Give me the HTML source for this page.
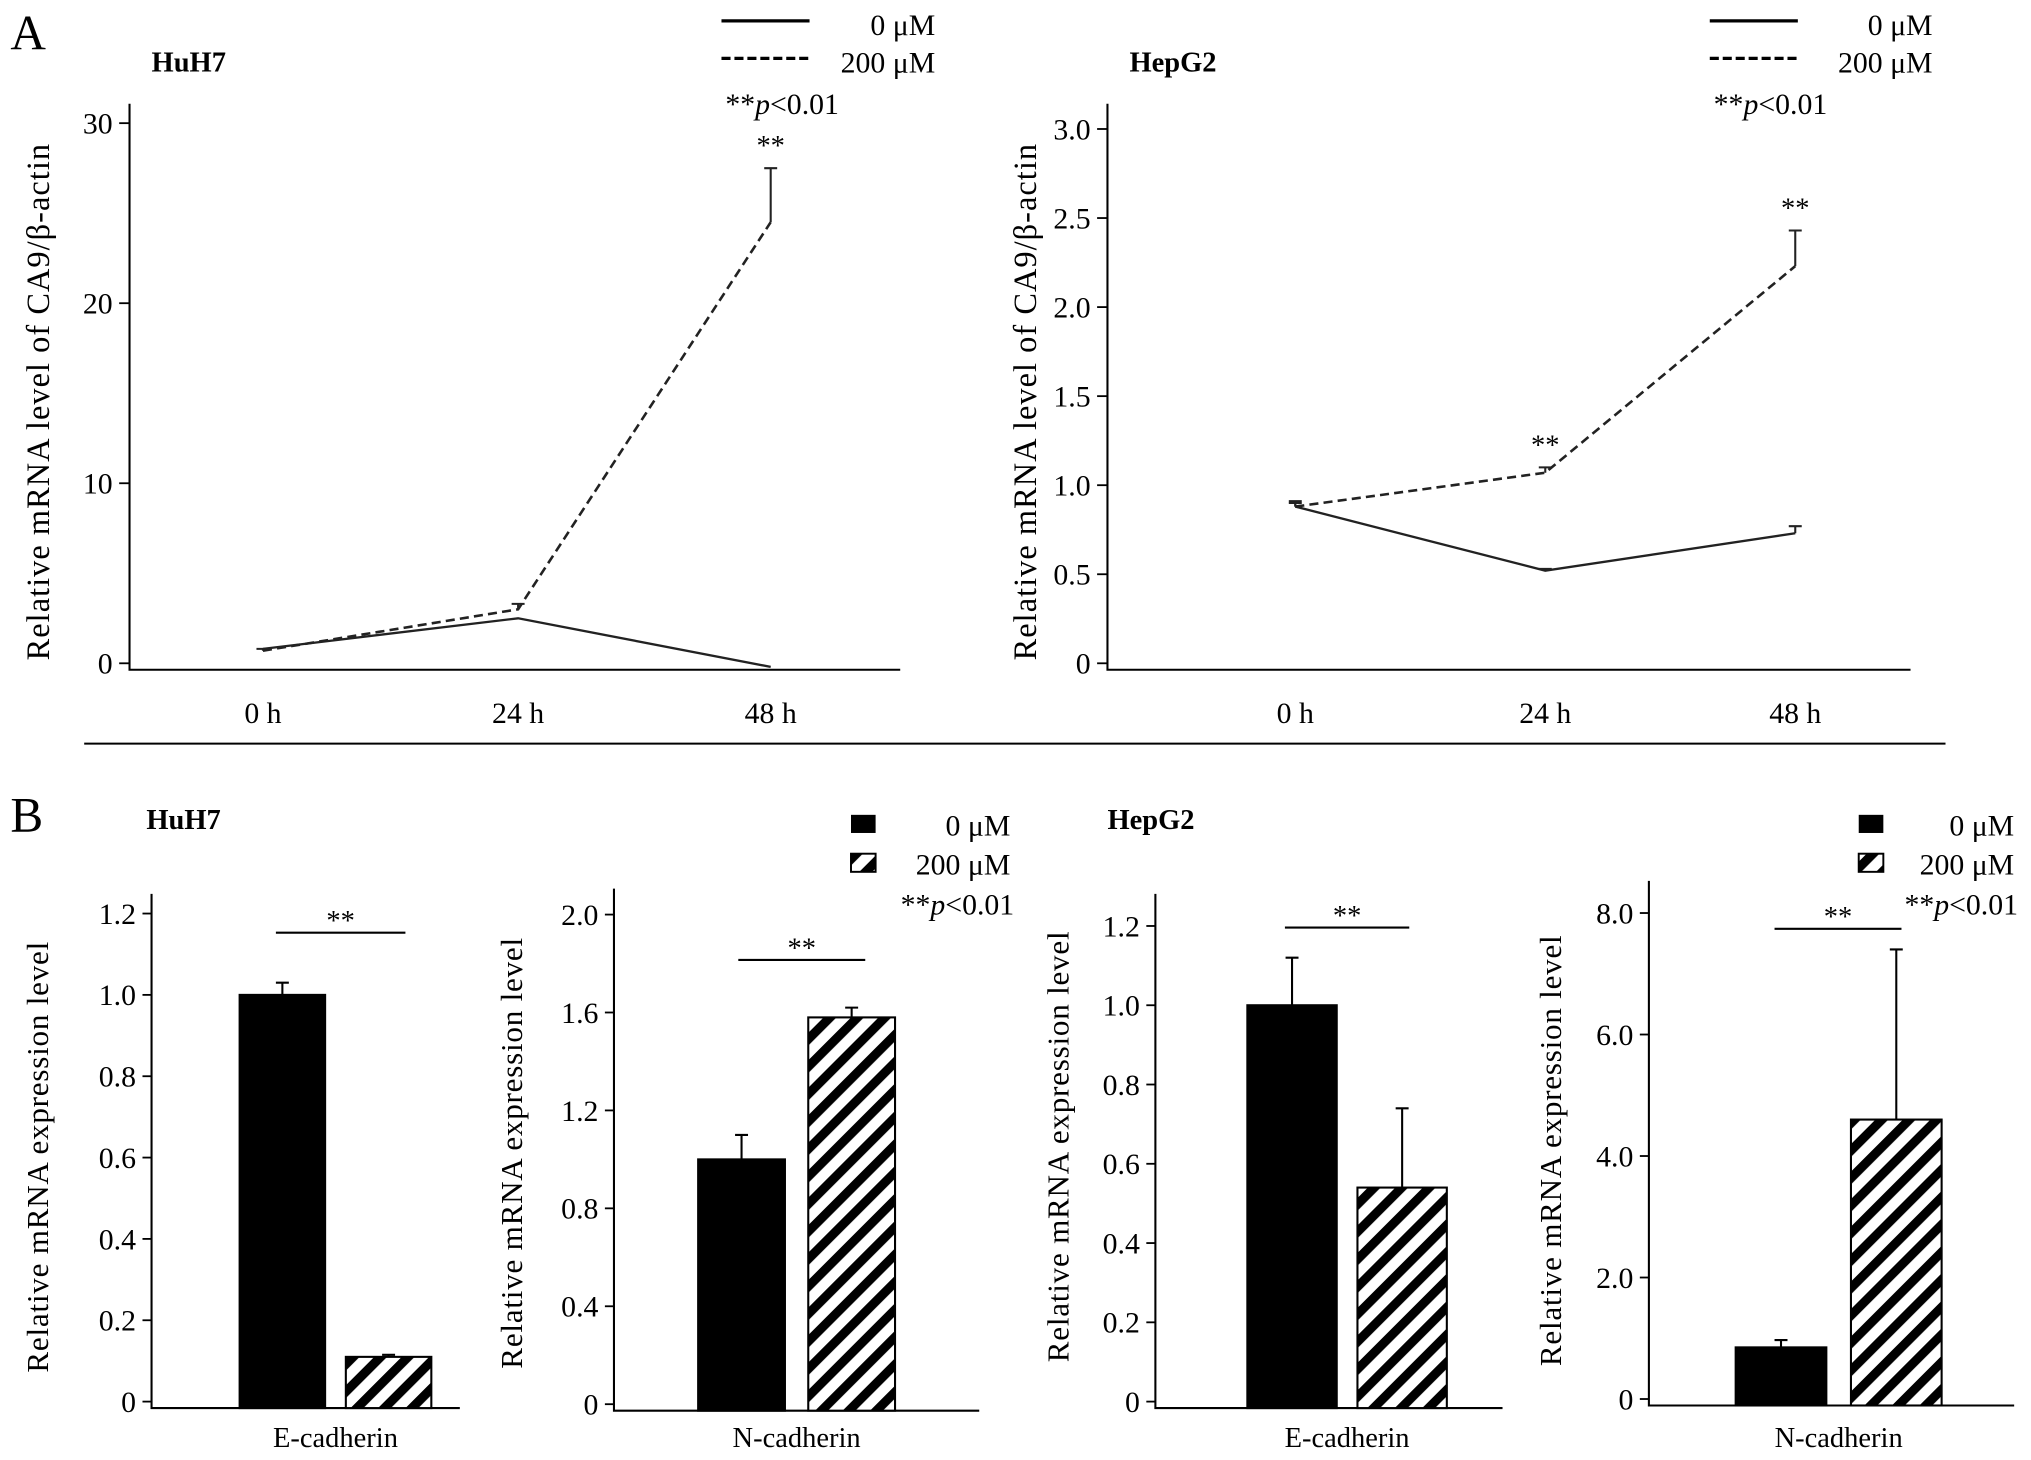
<!DOCTYPE html>
<html><head><meta charset="utf-8"><style>
html,body{margin:0;padding:0;background:#fff}
svg{display:block;font-family:"Liberation Serif",serif}
</style></head><body>
<svg id="fig" width="2031" height="1460" viewBox="0 0 1568 1127">
<defs>
<pattern id="hatch" patternUnits="userSpaceOnUse" width="15" height="15" patternTransform="rotate(45)">
<rect width="15" height="15" fill="#fff"/><rect x="0" y="0" width="7" height="15" fill="#000"/>
</pattern>
</defs>
<text x="8" y="38" font-size="38">A</text>
<text x="8" y="642" font-size="38">B</text>
<line x1="65" y1="574" x2="1502" y2="574" stroke="#000" stroke-width="1.5"/>
<g id="root"></g>
</svg>
<script>
// Panel A data
const timeCats = ["0 h","24 h","48 h"];
const huh7Ctrl = [0.8, 2.5, -0.2];
const huh7Treat = [0.7, 3.0, 24.5];
const huh7TreatErr = [0.1, 0.3, 3.0];
const huh7Ticks = [0, 10, 20, 30];
const hepCtrl = [0.88, 0.52, 0.73];
const hepCtrlErr = [0.03, 0.01, 0.04];
const hepTreat = [0.88, 1.07, 2.23];
const hepTreatErr = [0.02, 0.03, 0.2];
const hepTicks = [0, 0.5, 1.0, 1.5, 2.0, 2.5, 3.0];
const hepTickLabels = ["0","0.5","1.0","1.5","2.0","2.5","3.0"];
// Panel B data
const genes1 = ["E-cadherin"];
const b1Vals = [1.0, 0.11]; const b1Err = [0.03, 0.005];
const b1Ticks = ["0","0.2","0.4","0.6","0.8","1.0","1.2"];
const b2Vals = [1.0, 1.58]; const b2Err = [0.1, 0.04];
const b2Ticks = ["0","0.4","0.8","1.2","1.6","2.0"];
const b3Vals = [1.0, 0.54]; const b3Err = [0.12, 0.2];
const b3Ticks = ["0","0.2","0.4","0.6","0.8","1.0","1.2"];
const b4Vals = [0.85, 4.6]; const b4Err = [0.12, 2.8];
const b4Ticks = ["0","2.0","4.0","6.0","8.0"];

const NS="http://www.w3.org/2000/svg";
const root=document.getElementById('root');
function el(tag,attrs,parent,txt){const e=document.createElementNS(NS,tag);for(const k in attrs)e.setAttribute(k,attrs[k]);if(txt!==undefined)e.textContent=txt;(parent||root).appendChild(e);return e;}

function lineChart(o){
  const g=el('g',{});
  
  
  const y=v=>o.y0-(v-0)*o.ys;
  const x=i=>o.xs[i];
  const ax=el('path',{d:`M${o.ax} ${o.top}V${o.y0+5}H${o.axEnd}`,stroke:'#000','stroke-width':1.6,fill:'none'},g);
  
  o.ticks.forEach((t,i)=>{
    el('line',{x1:o.ax-8,x2:o.ax,y1:y(t),y2:y(t),stroke:'#000','stroke-width':1.4},g);
    const tl=el('text',{x:o.ax-13,y:y(t)+8,'font-size':23,'text-anchor':'end'},g,o.tickLabels?o.tickLabels[i]:String(t));
    
  });
  timeCats.forEach((c,i)=>{
    const t=el('text',{x:x(i),y:558,'font-size':23,'text-anchor':'middle'},g,c);
    
  });
  const yl=el('text',{transform:`translate(${o.ylx},310) rotate(-90)`,'font-size':25,'text-anchor':'middle','letter-spacing':'0.8'},g,'Relative mRNA level of CA9/β-actin');
  
  const l1=el('polyline',{points:o.ctrl.map((v,i)=>x(i)+','+y(v)).join(' '),fill:'none',stroke:'#222','stroke-width':1.8},g);
  
  const l2=el('polyline',{points:o.treat.map((v,i)=>x(i)+','+y(v)).join(' '),fill:'none',stroke:'#222','stroke-width':2,'stroke-dasharray':'7 4'},g);
  
  function errs(vals,err,nm){vals.forEach((v,i)=>{if(!err||err[i]<=0)return;
    const e=el('path',{d:`M${x(i)} ${y(v)}V${y(v+err[i])}M${x(i)-5} ${y(v+err[i])}H${x(i)+5}`,stroke:'#222','stroke-width':1.6,fill:'none'},g);
    });}
  errs(o.treat,o.treatErr,'error-bar-200uM');errs(o.ctrl,o.ctrlErr,'error-bar-0uM');
  o.sig.forEach(i=>{const s=el('text',{x:x(i),y:y(o.treat[i]+o.treatErr[i])-10,'font-size':22,'text-anchor':'middle'},g,'**');
    });
  const t=el('text',{x:o.ax+17,y:55,'font-size':22,'font-weight':'bold'},g,o.title);
  
  const lg=el('g',{},g);
  el('line',{x1:o.lgx,x2:o.lgx+68,y1:16,y2:16,stroke:'#000','stroke-width':2.5},lg);
  el('text',{x:o.lgr,y:27,'font-size':23,'text-anchor':'end'},lg,'0 μM');
  el('line',{x1:o.lgx,x2:o.lgx+68,y1:45,y2:45,stroke:'#000','stroke-width':2.5,'stroke-dasharray':'7 3'},lg);
  el('text',{x:o.lgr,y:56,'font-size':23,'text-anchor':'end'},lg,'200 μM');
  const p=el('text',{x:o.lgx+3,y:88,'font-size':23},lg);
  el('tspan',{},p,'**');el('tspan',{'font-style':'italic'},p,'p');el('tspan',{},p,'<0.01');
}
lineChart({name:'huh7-line-chart',title:'HuH7',ax:100,axEnd:695,top:80,y0:512,ys:13.9,xs:[203,400,595],ticks:huh7Ticks,ctrl:huh7Ctrl,treat:huh7Treat,treatErr:huh7TreatErr,ctrlErr:null,sig:[2],ylx:38,lgx:557,lgr:722});
lineChart({name:'hepg2-line-chart',title:'HepG2',ax:855,axEnd:1475,top:80,y0:512,ys:137.5,xs:[1000,1193,1386],ticks:hepTicks,tickLabels:hepTickLabels,ctrl:hepCtrl,ctrlErr:hepCtrlErr,treat:hepTreat,treatErr:hepTreatErr,sig:[1,2],ylx:800,lgx:1320,lgr:1492});

function barChart(o){
  const g=el('g',{});
  
  
  const y=v=>o.y0-v*o.ys;
  const ax=el('path',{d:`M${o.ax} ${o.top}V${o.y0+5}H${o.axEnd}`,stroke:'#000','stroke-width':1.6,fill:'none'},g);
  
  o.ticks.forEach(t=>{const v=parseFloat(t);
    el('line',{x1:o.ax-7,x2:o.ax,y1:y(v),y2:y(v),stroke:'#000','stroke-width':1.4},g);
    const tl=el('text',{x:o.ax-12,y:y(v)+8,'font-size':23,'text-anchor':'end'},g,t);
    });
  o.vals.forEach((v,i)=>{
    const bx=o.bx[i];
    const b=el('rect',{x:bx,y:y(v),width:o.bw,height:y(0)+5-y(v),fill:i?'url(#hatch)':'#000',stroke:'#000','stroke-width':1.6},g);
    
    const cx=bx+o.bw/2,top=y(v+o.err[i]);
    const e=el('path',{d:`M${cx} ${y(v)}V${top}M${cx-5} ${top}H${cx+5}`,stroke:'#000','stroke-width':1.6,fill:'none'},g);
    
  });
  const s=el('line',{x1:o.sig[0],x2:o.sig[1],y1:o.sig[2],y2:o.sig[2],stroke:'#000','stroke-width':1.6},g);
  
  const st=el('text',{x:(o.sig[0]+o.sig[1])/2,y:o.sig[2]-2,'font-size':22,'text-anchor':'middle'},g,'**');
  
  const xl=el('text',{x:(o.bx[0]+o.bx[1]+o.bw)/2,y:1117,'font-size':22,'text-anchor':'middle'},g,o.gene);
  
  const yl=el('text',{transform:`translate(${o.ylx},${o.ylc}) rotate(-90)`,'font-size':24,'text-anchor':'middle','letter-spacing':'0.6'},g,'Relative mRNA expression  level');
  
}
barChart({name:'huh7-ecadherin-bar-chart',gene:genes1[0],ax:117,axEnd:355,top:690,y0:1082,ys:314,ticks:b1Ticks,vals:b1Vals,err:b1Err,bx:[185,267],bw:66,sig:[213,313,720],ylx:37,ylc:893});
barChart({name:'huh7-ncadherin-bar-chart',gene:'N-cadherin',ax:474,axEnd:756,top:686,y0:1084,ys:189,ticks:b2Ticks,vals:b2Vals,err:b2Err,bx:[539,624],bw:67,sig:[570,668,741],ylx:403,ylc:890});
barChart({name:'hepg2-ecadherin-bar-chart',gene:'E-cadherin',ax:892,axEnd:1160,top:690,y0:1082,ys:306,ticks:b3Ticks,vals:b3Vals,err:b3Err,bx:[963,1048],bw:69,sig:[992,1088,716],ylx:825,ylc:885});
barChart({name:'hepg2-ncadherin-bar-chart',gene:'N-cadherin',ax:1273,axEnd:1555,top:680,y0:1080,ys:46.9,ticks:b4Ticks,vals:b4Vals,err:b4Err,bx:[1340,1429],bw:70,sig:[1370,1468,717],ylx:1205,ylc:888});

const titles=[[113,'HuH7'],[855,'HepG2']];
titles.forEach(t=>{const e=el('text',{x:t[0],y:640,'font-size':22,'font-weight':'bold'},root,t[1]);
  });
function barLegend(lx,rx,nm){
  const g=el('g',{});
  el('rect',{x:lx,y:629,width:19,height:14,fill:'#000'},g);
  el('text',{x:rx,y:645,'font-size':23,'text-anchor':'end'},g,'0 μM');
  el('rect',{x:lx,y:659,width:19,height:14,fill:'url(#hatch)',stroke:'#000','stroke-width':1.5},g);
  el('text',{x:rx,y:675,'font-size':23,'text-anchor':'end'},g,'200 μM');
  const p=el('text',{x:rx+3,y:706,'font-size':23,'text-anchor':'end'},g);
  el('tspan',{},p,'**');el('tspan',{'font-style':'italic'},p,'p');el('tspan',{},p,'<0.01');
}
barLegend(657,780,'legend-huh7-bars');
barLegend(1435,1555,'legend-hepg2-bars');
</script>
</body></html>
